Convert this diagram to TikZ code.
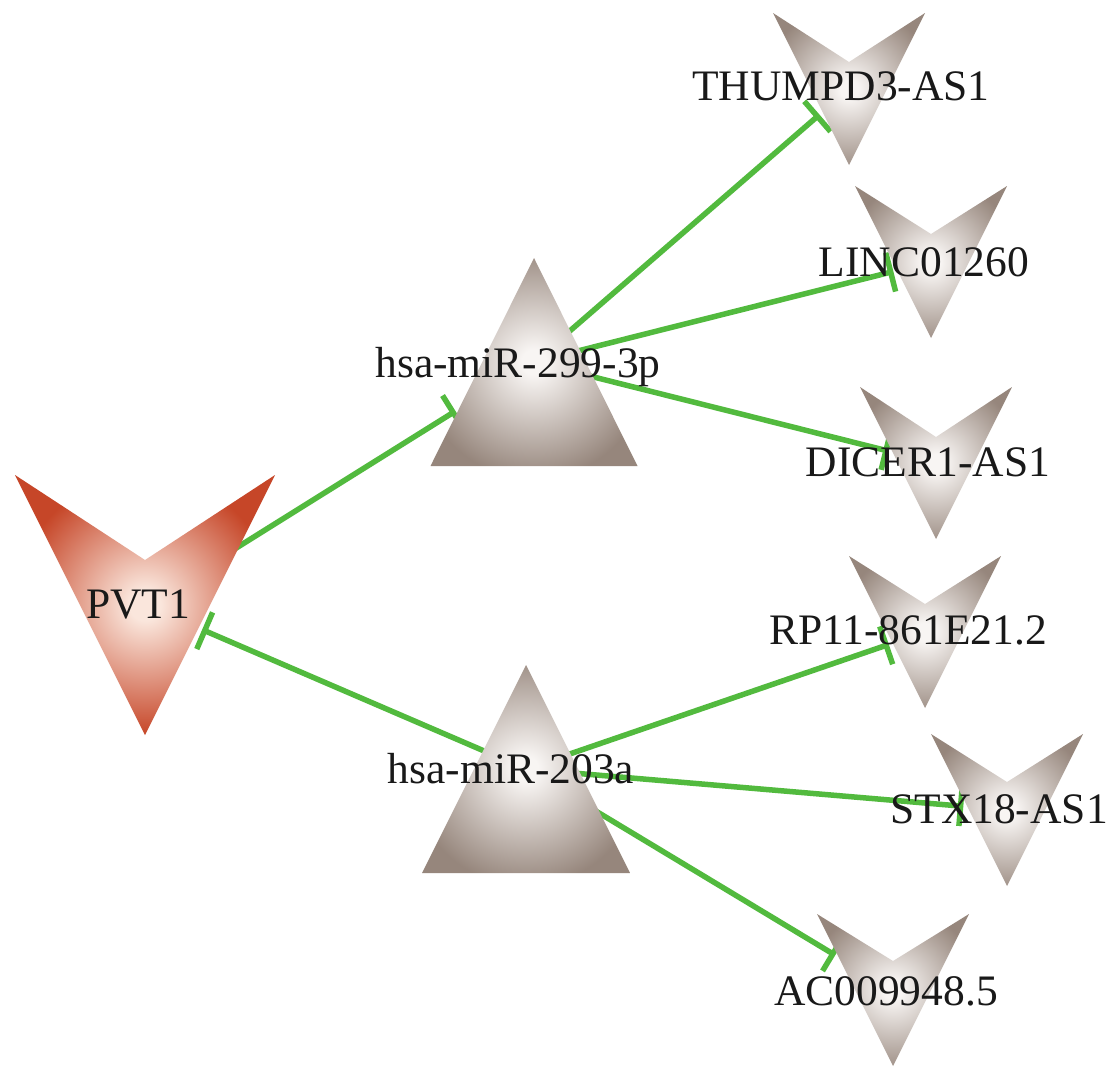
\documentclass[tikz,border=0pt]{standalone}
\usepackage{fontspec}
\setmainfont{Liberation Serif}
\usetikzlibrary{arrows.meta,intersections}

\definecolor{edgegreen}{RGB}{82,186,62}
\definecolor{labelink}{RGB}{25,25,25}
\definecolor{mirlight}{RGB}{248,245,243}
\definecolor{mirdark}{RGB}{150,134,124}
\definecolor{pvtlight}{RGB}{250,230,220}
\definecolor{pvtdark}{RGB}{198,70,40}

\pgfdeclareradialshading{greyglow}{\pgfpointorigin}{%
  color(0bp)=(mirlight); color(3bp)=(mirlight); color(28bp)=(mirdark); color(50bp)=(mirdark)}
\pgfdeclareradialshading{redglow}{\pgfpointorigin}{%
  color(0bp)=(pvtlight); color(3bp)=(pvtlight); color(25bp)=(pvtdark); color(50bp)=(pvtdark)}

\pgfdeclarelayer{edges}
\pgfdeclarelayer{labels}
\pgfsetlayers{edges,main,labels}

% V-shaped node: name, centre x, centre y, half size, notch depth, shading
\newcommand\vnode[6]{%
  \coordinate (#1) at (#2,#3);
  \path[shading=#6, name path=#1-border]
    (#2-#4,#3-#4) -- (#2,#3-#4+#5) -- (#2+#4,#3-#4) -- (#2,#3+#4) -- cycle;
}
% upward triangle node: name, centre x, centre y, half width, half height, shading
\newcommand\tnode[6]{%
  \coordinate (#1) at (#2,#3);
  \path[shading=#6, name path=#1-border]
    (#2,#3-#5) -- (#2+#4,#3+#5) -- (#2-#4,#3+#5) -- cycle;
}
% inhibition link from the centre of #1 to the border of #2
\newcommand\inhib[2]{%
  \path[name path=link] (#1) -- (#2);
  \path[name intersections={of=link and #2-border, sort by=link, by=hit}];
  \begin{pgfonlayer}{edges}
    \draw[edge] (#1) -- (hit);
  \end{pgfonlayer}
}

\begin{document}
\begin{tikzpicture}[x=1pt,y=-1pt,
  edge/.style={draw=edgegreen, line width=5.5pt, -{Bar[width=40pt]}, shorten >=4pt},
  lbl/.style={inner sep=0pt, anchor=base, text=labelink,
              font=\fontsize{43.5pt}{52pt}\selectfont},
]
\begin{pgfonlayer}{edges}
\fill[white] (0,0) rectangle (1115,1068);
\end{pgfonlayer}
\useasboundingbox (0,0) rectangle (1115,1068);

% nodes
\vnode{pvt}{145}{605}{130}{85}{redglow}
\tnode{mirA}{534}{362}{103.5}{104}{greyglow}
\tnode{mirB}{526}{769}{104}{104}{greyglow}
\vnode{thumpd}{849}{89}{76}{49}{greyglow}
\vnode{linc}{931}{262}{76}{48}{greyglow}
\vnode{dicer}{936}{463}{76}{50}{greyglow}
\vnode{rp}{925}{632}{76}{48}{greyglow}
\vnode{stx}{1007}{810}{76}{48}{greyglow}
\vnode{ac}{893}{990}{76}{47}{greyglow}

% links
\inhib{pvt}{mirA}
\inhib{mirB}{pvt}
\inhib{mirA}{thumpd}
\inhib{mirA}{linc}
\inhib{mirA}{dicer}
\inhib{mirB}{rp}
\inhib{mirB}{stx}
\inhib{mirB}{ac}

% labels
\begin{pgfonlayer}{labels}
\node[lbl] (pvt-l) at (138,618) {PVT1};
\node[lbl] (mirA-l) at (518,377) {hsa-miR-299-3p};
\node[lbl] (mirB-l) at (511,783) {hsa-miR-203a};
\node[lbl] (thumpd-l) at (841,100) {THUMPD3-AS1};
\node[lbl] (linc-l) at (924,276) {LINC01260};
\node[lbl] (dicer-l) at (928,476) {DICER1-AS1};
\node[lbl] (rp-l) at (908,644) {RP11-861E21.2};
\node[lbl] (stx-l) at (999,823) {STX18-AS1};
\node[lbl] (ac-l) at (886,1005) {AC009948.5};
\end{pgfonlayer}
\end{tikzpicture}
\end{document}
